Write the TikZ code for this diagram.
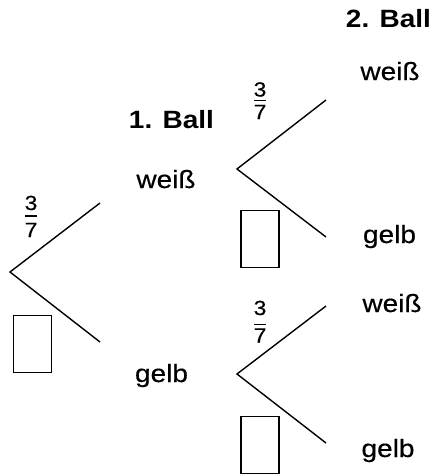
\documentclass[tikz,border=0pt]{standalone}
\usepackage{fontspec}
\setmainfont{Liberation Sans}[FakeStretch=1.12]
\newfontfamily\labelfont{Liberation Sans}[FakeStretch=1.12,FakeBold=0.4]
\begin{document}
\begin{tikzpicture}[x=1pt,y=-1pt,
  lbl/.style={anchor=base,inner sep=0pt,font=\labelfont\fontsize{25}{30}\selectfont},
  head/.style={anchor=base,inner sep=0pt,font=\fontsize{25}{30}\selectfont\bfseries},
  digit/.style={anchor=base,inner sep=0pt,font=\labelfont\fontsize{20.5}{24}\selectfont},
  branch/.style={line width=1.4pt,line join=miter},
  fracbar/.style={line width=1.3pt},
  blank/.style={draw,line width=1.3pt,inner sep=0pt,minimum width=38pt,minimum height=57pt}]
\useasboundingbox (0,0) rectangle (434,474);
% headings
\node[head] (ball2) at (388.5,27) {2. Ball};
\node[head] (ball1) at (171.5,128) {1. Ball};
% labels
\node[lbl] (w1) at (166,188) {weiß};
\node[lbl] (g1) at (161.5,382) {gelb};
\node[lbl] (w2a) at (390,80) {weiß};
\node[lbl] (g2a) at (389.5,243) {gelb};
\node[lbl] (w2b) at (392,312) {weiß};
\node[lbl] (g2b) at (388,457) {gelb};
% branch points
\coordinate (r) at (10,272);
\coordinate (ra) at (100,203);
\coordinate (rb) at (100,342);
\coordinate (a) at (237,169);
\coordinate (aa) at (326,100);
\coordinate (ab) at (326,237);
\coordinate (b) at (237,374);
\coordinate (ba) at (326,306);
\coordinate (bb) at (326,443);
\draw[branch] (ra) -- (r) -- (rb);
\draw[branch] (aa) -- (a) -- (ab);
\draw[branch] (ba) -- (b) -- (bb);
% fractions
\node[digit] (f1n) at (31,210) {3};
\node[digit] (f1d) at (31,237) {7};
\draw[fracbar] (25,216) -- (37,216);
\node[digit] (f2n) at (260,96.5) {3};
\node[digit] (f2d) at (260,119) {7};
\draw[fracbar] (254,100.5) -- (266,100.5);
\node[digit] (f3n) at (260,315) {3};
\node[digit] (f3d) at (260,342.5) {7};
\draw[fracbar] (254,324.5) -- (266,324.5);
% blank boxes
\node[blank] (bx1) at (32.5,344) {};
\node[blank] (bx2) at (260,239) {};
\node[blank] (bx3) at (260,445) {};
\end{tikzpicture}
\end{document}
